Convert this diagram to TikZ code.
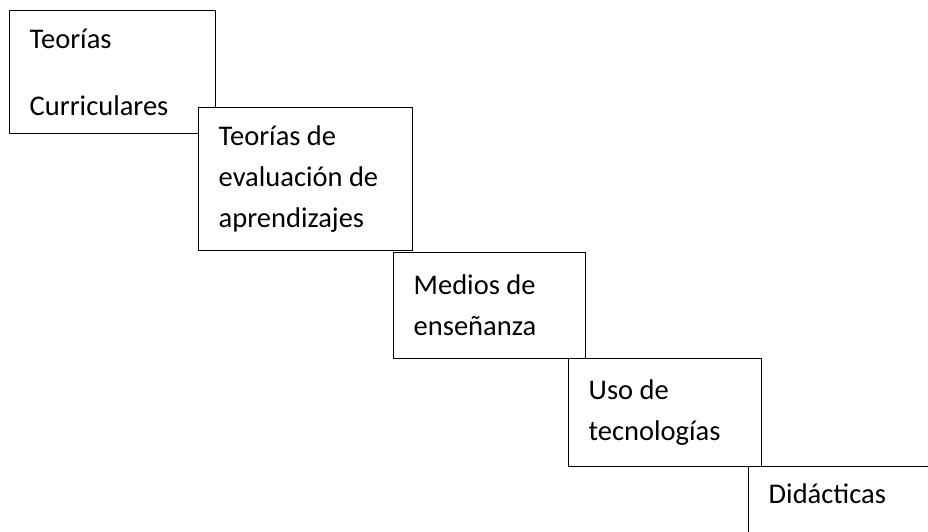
\documentclass[tikz,border=0pt]{standalone}
\usepackage{fontspec}
\setmainfont{Carlito}
\usepackage{tikz}
\newcommand{\boxfont}{\fontsize{28.5}{41}\selectfont}
\tikzset{stepbox/.style={draw, fill=white, line width=1.4pt, anchor=north west, inner xsep=20pt, inner ysep=0pt, align=flush left, font=\boxfont}}

\begin{document}
\begin{tikzpicture}[x=1pt, y=-1pt]
	    \useasboundingbox (0,0) rectangle (928,532);
	    \node[stepbox, text width=166pt, minimum height=123pt] (curr) at (9,10) {Teorías\\[26pt]Curriculares};
	    \node[stepbox, text width=174pt, minimum height=143pt] (eval) at (198,107) {Teorías de\\evaluación de\\aprendizajes};
	    \node[stepbox, text width=152pt, minimum height=106pt] (medios) at (393,252) {Medios de\\enseñanza};
	    \node[stepbox, text width=153pt, minimum height=108pt] (tecno) at (568,358) {Uso de\\tecnologías};
	    \node[stepbox, text width=180pt, inner ysep=17pt, text depth=80pt] (didac) at (748,466) {Didácticas};
	\end{tikzpicture}
\end{document}
